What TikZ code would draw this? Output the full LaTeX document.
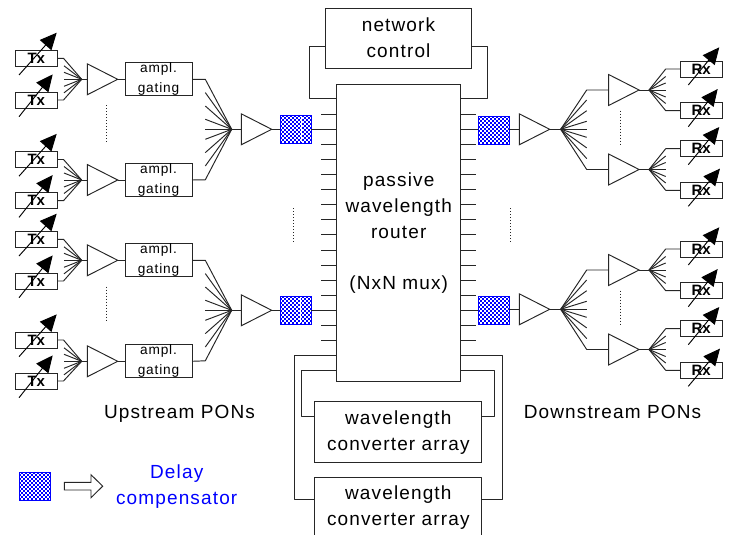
\documentclass[tikz,border=0pt]{standalone}
\usepackage{fontspec}
\usetikzlibrary{arrows.meta,shapes.geometric}
\setmainfont{Liberation Sans}
\newfontfamily\spfont[LetterSpace=6]{Liberation Sans}
\definecolor{ln}{gray}{0.15}
\definecolor{dlyblue}{RGB}{0,0,255}
\tikzset{
  x=0.75pt,y=-0.75pt,
  wire/.style={draw=ln,line width=0.72pt,line join=round},
  thinbox/.style={draw=ln,line width=0.72pt,fill=white,inner sep=0pt,outer sep=0pt},
  trx/.style={thinbox,minimum width=31.5pt,minimum height=12pt,font=\fontsize{11.25}{12}\selectfont\bfseries},
  gatebox/.style={thinbox,minimum width=50.25pt,minimum height=24.75pt},
  gatetxt/.style={inner sep=0pt,align=center,font=\fontsize{10.25}{15}\spfont},
  plaintxt/.style={inner sep=0pt,align=center,font=\fontsize{14.25}{19.4}\spfont},
  amp/.style={shape=isosceles triangle,isosceles triangle apex angle=54,isosceles triangle stretches,
     draw=ln,line width=0.72pt,fill=white,inner sep=0pt,outer sep=0pt,minimum width=23.2pt,minimum height=22.8pt,anchor=lower side},
  tune/.style={draw=black,line width=0.7pt,-{Triangle[length=12.5pt,width=11.5pt]}},
  dots/.style={draw=ln,line width=0.55pt,dash pattern=on 0.75pt off 1.5pt},
  dly/.style={draw=dlyblue,line width=0.5pt,fill=dlyblue,inner sep=0pt,outer sep=0pt,minimum width=23.25pt,minimum height=21pt,
    path picture={
      \foreach \i in {0,...,7}{\foreach \j in {0,...,13}{
        \pgfmathtruncatemacro{\odd}{mod(\j,2)}
        \fill[white] ([xshift={(\i*4+\odd*2+0.15)*0.75pt},yshift={-(\j*2+0.15)*0.75pt}]path picture bounding box.north west) rectangle ++(1.7,1.7);
      }}
    }},
}
% #1 name, #2 centre y, #3 tip x
\newcommand\txunit[3]{%
  \node[trx] (#1) at (36.3,#2) {Tx};
  \coordinate (#1a) at (19,#2+16.7);
  \coordinate (#1b) at (#3,#2-25.6);
  \draw[tune] (#1a) -- (#1b);
}
\newcommand\rxunit[3]{%
  \node[trx] (#1) at (701.1,#2) {Rx};
  \coordinate (#1a) at (688.3,#2+16);
  \coordinate (#1b) at (#3,#2-21.7);
  \draw[tune] (#1a) -- (#1b);
}
% fan: #1 point name, #2 free end x, #3 point y, #4 offsets
\newcommand\fan[4]{%
  \foreach \d [count=\c] in {#4}{
    \coordinate (#1e\c) at (#2,#3+\d);
    \draw[wire] (#1e\c) -- (#1);
  }
}
\begin{document}
\begin{tikzpicture}
\useasboundingbox (0,0) rectangle (732,535);
% ---- left groups
\foreach \g/\ya/\yb/\yf in {a/58.3/100/79.3,b/159.5/200.7/180,c/239.3/281/260.3,d/340/381/361.3}{
  \txunit{\g1}{\ya}{56.7}
  \txunit{\g2}{\yb}{52.7}
  \coordinate (\g f) at (81.7,\yf);
  \node[amp] (\g t) at (87.3,\yf) {};
  \node[gatebox] (\g g) at (158.5,\yf) {};
  \node[gatetxt] (\g l) at (158.5,\yf-0.2) {ampl.\\gating};
  \draw[wire] (\g1.east) -- (63.5,\ya) -- (\g f);
  \draw[wire] (\g2.east) -- (63.5,\yb) -- (\g f);
  \fan{\g f}{64}{\yf}{-13.5,-7,0,7,13.5}
  \draw[wire] (\g f) -- (\g t.lower side);
  \draw[wire] (\g t.apex) -- (\g g.west);
}
% ---- upstream trunk
\foreach \g/\p/\q/\yf/\yd/\nm in {a/a/b/129.3/129/u1,c/c/d/310.3/310/u2}{
  \coordinate (\nm f) at (231.7,\yf);
  \draw[wire] (\p g.east) -- (205.3,\yf-50) -- (\nm f);
  \draw[wire] (\q g.east) -- (205.3,\yf+50.5) -- (\nm f);
  \fan{\nm f}{205.3}{\yf}{-36.7,-23.3,-10,0,10,23.3,36.7}
  \node[amp] (\nm t) at (241.3,\yf) {};
  \node[dly] (\nm d) at (295.5,\yd) {};
  \draw[wire] (\nm f) -- (\nm t.lower side);
  \draw[wire] (\nm t.apex) -- (\nm d.west |- \nm t.apex);
}
\draw[white,line width=0.6pt] (301,116) -- (301,142);
\draw[white,line width=0.6pt] (300,297) -- (300,323);
% ---- router
\node[thinbox,minimum width=93pt,minimum height=222.75pt] (router) at (398.7,232.5) {};
\node[plaintxt] (routertxt) at (398.7,233.3)
  {passive\\wavelength\\router\\[19.4pt](NxN mux)};
\foreach \i in {0,...,15}{
  \coordinate (tl\i) at (321,114+15.11*\i);
  \coordinate (rl\i) at (336.7,114+15.11*\i);
  \coordinate (tr\i) at (475.7,114+15.11*\i);
  \coordinate (rr\i) at (460.7,114+15.11*\i);
  \draw[wire] (tl\i) -- (rl\i);
  \draw[wire] (rr\i) -- (tr\i);
}
\draw[wire] (u1d.east |- rl1) -- (rl1);
\draw[wire] (u2d.east |- rl13) -- (rl13);
% ---- network control
\node[thinbox,minimum width=109.8pt,minimum height=45.2pt] (ctrl) at (398.5,38.2) {};
\node[plaintxt] (ctrltxt) at (398.5,37.7) {network\\control};
\coordinate (rtl) at (336.7,98.7);
\coordinate (rtr) at (460.7,98.7);
\draw[wire] (ctrl.west |- 0,46) -- (309.3,46) -- (309.3,98.7) -- (rtl);
\draw[wire] (ctrl.east |- 0,46) -- (487.7,46) -- (487.7,98.7) -- (rtr);
% ---- converters
\node[thinbox,minimum width=125pt,minimum height=45.75pt] (conv1) at (398.3,431.5) {};
\node[plaintxt] (conv1txt) at (398.3,432.5) {wavelength\\converter array};
\node[inner sep=0pt,outer sep=0pt,minimum width=125pt,minimum height=43.5pt] (conv2) at (398.3,506) {};
\node[plaintxt] (conv2txt) at (398.3,507.8) {wavelength\\converter array};
\draw[wire] (conv2.south west) -- (conv2.north west) -- (conv2.north east) -- (conv2.south east);
\coordinate (b1l) at (336.7,355.7);
\coordinate (b1r) at (460.7,355.7);
\coordinate (b2l) at (336.7,370.7);
\coordinate (b2r) at (460.7,370.7);
\draw[wire] (b1l) -- (294,355.7) -- (294,499.3) -- (conv2.west |- 0,499.3);
\draw[wire] (b1r) -- (502.7,355.7) -- (502.7,499.3) -- (conv2.east |- 0,499.3);
\draw[wire] (b2l) -- (301.7,370.7) -- (301.7,416.3) -- (conv1.west |- 0,416.3);
\draw[wire] (b2r) -- (494.3,370.7) -- (494.3,416.3) -- (conv1.east |- 0,416.3);
% ---- downstream
\foreach \nm/\yy/\yd/\rr/\ra/\rb/\rc/\rd in {v1/129.3/130/rr1/69/110.7/148.7/190.3,v2/309.3/310/rr13/249/290.7/328.7/370.3}{
  \node[dly] (\nm d) at (493.5,\yd) {};
  \draw[wire] (\rr) -- (\nm d.west |- \rr);
  \node[amp] (\nm t) at (519.3,\yy) {};
  \draw[wire] (\nm d.east |- \nm t.lower side) -- (\nm t.lower side);
  \coordinate (\nm f) at (560.7,\yy);
  \draw[wire] (\nm t.apex) -- (\nm f);
  \fan{\nm f}{586.7}{\yy}{-29.3,-18.6,-8,8,18.6,29.3,0}
  % upper and lower branch
  \coordinate (\nm uf) at (649,\yy-39.3);
  \coordinate (\nm lf) at (649,\yy+40.2);
  \node[amp] (\nm ut) at (608.7,\yy-39.3) {};
  \node[amp] (\nm lt) at (608.7,\yy+40.2) {};
  \draw[wire] (\nm f) -- (586.7,\yy-39.3) -- (\nm ut.lower side);
  \draw[wire] (\nm f) -- (586.7,\yy+40.2) -- (\nm lt.lower side);
  \draw[wire] (\nm ut.apex) -- (\nm uf);
  \draw[wire] (\nm lt.apex) -- (\nm lf);
  \rxunit{\nm r1}{\ra}{719.3}
  \rxunit{\nm r2}{\rb}{717.7}
  \rxunit{\nm r3}{\rc}{719.3}
  \rxunit{\nm r4}{\rd}{720}
  \draw[wire] (\nm r1.west) -- (665.7,\ra) -- (\nm uf);
  \draw[wire] (\nm r2.west) -- (665.7,\rb) -- (\nm uf);
  \draw[wire] (\nm r3.west) -- (665.7,\rc) -- (\nm lf);
  \draw[wire] (\nm r4.west) -- (665.7,\rd) -- (\nm lf);
  \fan{\nm uf}{665.7}{\yy-39.3}{-13.5,-7,0,7,13.5}
  \fan{\nm lf}{665.7}{\yy+40.2}{-13.5,-7,0,7,13.5}
}
% ---- omission dots
\foreach \n/\x/\ya/\yb in {p1/106/105.3/141.7,p2/106/286.7/322.7,p3/293.3/208/244,p4/510/208/244,p5/620/110.7/146.7,p6/620/290.7/326.7}{
  \coordinate (\n a) at (\x,\ya);
  \coordinate (\n b) at (\x,\yb);
  \draw[dots] (\n a) -- (\n b);
}
% ---- captions
\node[plaintxt,anchor=base] (up) at (179.5,418.5) {Upstream PONs};
\node[plaintxt,anchor=base] (down) at (612.5,418.5) {Downstream PONs};
% ---- legend
\node[dly] (legd) at (34.5,486) {};
\node[plaintxt,text=dlyblue] (legt) at (176.7,487) {Delay\\compensator};
\draw[ln,line width=0.7pt,fill=white] (64.3,482.3) -- (91,482.3) -- (91,474.7) -- (102.7,486.2) -- (91,497.7) -- (91,490) -- (64.3,490) -- cycle;
\end{tikzpicture}
\end{document}
